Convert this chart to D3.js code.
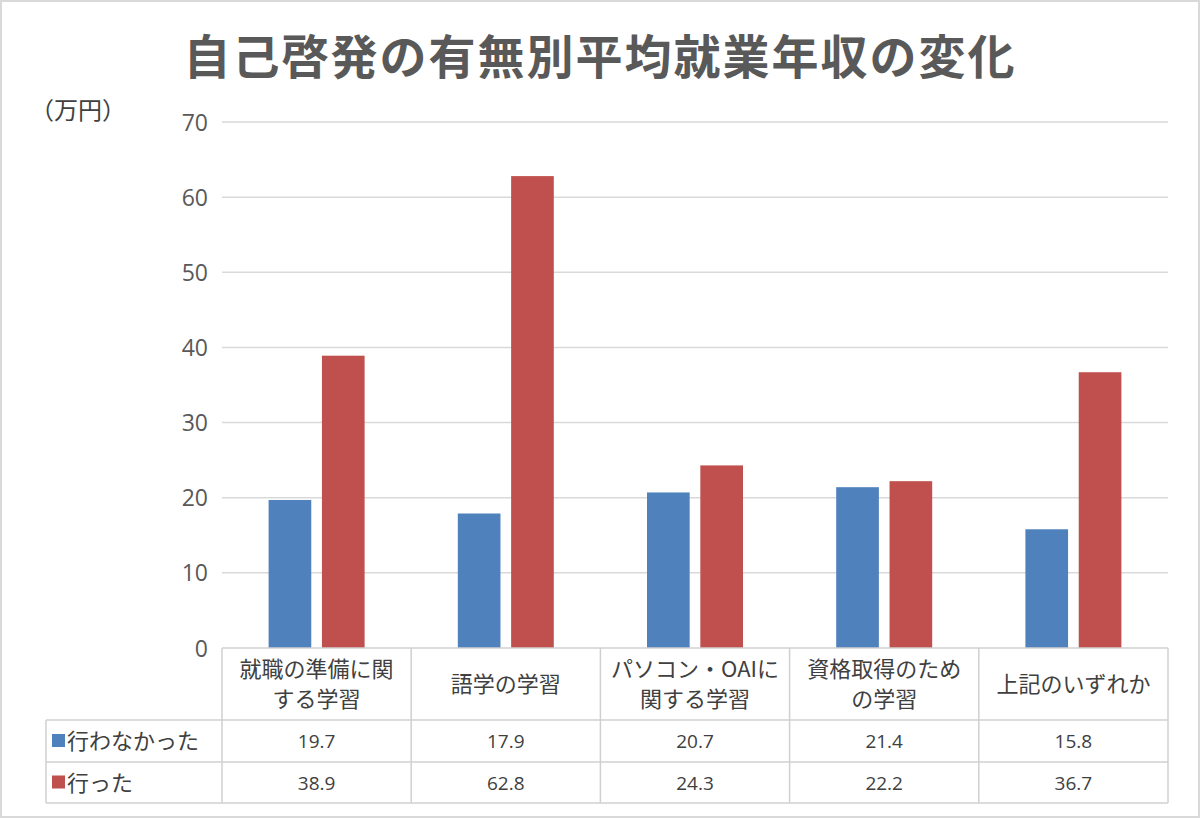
<!DOCTYPE html>
<html>
<head>
<meta charset="utf-8">
<script src="https://cdn.jsdelivr.net/npm/d3@7"></script>
<style>
  body { margin: 0; background: #fff; }
  svg { display: block; font-family: "Noto Sans CJK JP", "Noto Sans", sans-serif; }
</style>
</head>
<body>
<script>
// データ
const categories = [
  ["就職の準備に関", "する学習"],
  ["語学の学習"],
  ["パソコン・OAIに", "関する学習"],
  ["資格取得のため", "の学習"],
  ["上記のいずれか"]
];
const seriesNames = ["行わなかった", "行った"];
const notDone = [19.7, 17.9, 20.7, 21.4, 15.8];
const done = [38.9, 62.8, 24.3, 22.2, 36.7];
const yTicks = [0, 10, 20, 30, 40, 50, 60, 70];
const colors = ["#4F81BD", "#C0504D"];

const W = 1200, H = 818;
const plotLeft = 222, plotRight = 1168, plotTop = 122, plotBottom = 648;
const tableLeft = 46;
const rowLines = [648, 720, 762, 803];

const svg = d3.select("body").append("svg")
  .attr("width", W).attr("height", H);

// 外枠
svg.append("rect")
  .attr("x", 1).attr("y", 1).attr("width", W - 2).attr("height", H - 2)
  .attr("fill", "#fff").attr("stroke", "#d9d9d9").attr("stroke-width", 2);

// タイトル
svg.append("text")
  .attr("x", 600).attr("y", 74)
  .attr("text-anchor", "middle")
  .attr("font-size", 47).attr("font-weight", "bold")
  .attr("fill", "#595959")
  .attr("letter-spacing", 2)
  .text("自己啓発の有無別平均就業年収の変化");

svg.append("text")
  .attr("x", 30).attr("y", 119)
  .attr("font-size", 24).attr("fill", "#404040")
  .text("（万円）");

const y = d3.scaleLinear().domain([0, 70]).range([plotBottom, plotTop]);
const x = d3.scaleBand()
  .domain(d3.range(categories.length))
  .range([plotLeft, plotRight]);
const xs = d3.scaleBand()
  .domain([0, 1])
  .range([x.bandwidth() / 2 - 48, x.bandwidth() / 2 + 48])
  .paddingInner(0.2);

// グリッド線
svg.append("g")
  .selectAll("line")
  .data(yTicks.filter(d => d > 0))
  .join("line")
  .attr("x1", plotLeft).attr("x2", plotRight)
  .attr("y1", d => y(d)).attr("y2", d => y(d))
  .attr("stroke", "#d9d9d9").attr("stroke-width", 1.5);

// Y軸
const yAxis = svg.append("g")
  .attr("transform", `translate(${plotLeft - 14},0)`)
  .call(d3.axisLeft(y).tickValues(yTicks).tickSize(0).tickPadding(0));
yAxis.select(".domain").remove();
yAxis.selectAll("text")
  .attr("font-size", 23).attr("fill", "#595959")
  .attr("font-family", "'Open Sans', 'Noto Sans', sans-serif")
  .attr("dy", "0.35em");

// 棒
const series = [notDone, done];
series.forEach((vals, si) => {
  svg.append("g")
    .selectAll("rect")
    .data(vals)
    .join("rect")
    .attr("x", (d, i) => x(i) + xs(si))
    .attr("y", d => y(d))
    .attr("width", xs.bandwidth())
    .attr("height", d => y(0) - y(d))
    .attr("fill", colors[si]);
});

// データテーブル
const tbl = svg.append("g");
const lineColor = "#d0d0d0";
// 横線
tbl.selectAll("line.h")
  .data(rowLines)
  .join("line")
  .attr("class", "h")
  .attr("x1", (d, i) => i === 0 ? plotLeft : tableLeft)
  .attr("x2", plotRight)
  .attr("y1", d => d).attr("y2", d => d)
  .attr("stroke", lineColor).attr("stroke-width", 1.5);
// 縦線
const colEdges = d3.range(categories.length + 1).map(i => i < categories.length ? x(i) : plotRight);
tbl.selectAll("line.v")
  .data(colEdges)
  .join("line")
  .attr("class", "v")
  .attr("x1", d => d).attr("x2", d => d)
  .attr("y1", rowLines[0]).attr("y2", rowLines[3])
  .attr("stroke", lineColor).attr("stroke-width", 1.5);
tbl.append("line")
  .attr("x1", tableLeft).attr("x2", tableLeft)
  .attr("y1", rowLines[1]).attr("y2", rowLines[3])
  .attr("stroke", lineColor).attr("stroke-width", 1.5);

// カテゴリ名
categories.forEach((lines, i) => {
  const cx = x(i) + x.bandwidth() / 2;
  const midY = (rowLines[0] + rowLines[1]) / 2;
  const t = tbl.append("text")
    .attr("text-anchor", "middle")
    .attr("font-size", 22).attr("fill", "#404040");
  lines.forEach((s, j) => {
    t.append("tspan")
      .attr("x", cx)
      .attr("y", midY + 8 + (j - (lines.length - 1) / 2) * 30)
      .text(s);
  });
});

// 系列名と値
series.forEach((vals, si) => {
  const cy = (rowLines[si + 1] + rowLines[si + 2]) / 2;
  tbl.append("rect")
    .attr("x", tableLeft + 6).attr("y", cy - 7)
    .attr("width", 13).attr("height", 13)
    .attr("fill", colors[si]);
  tbl.append("text")
    .attr("x", tableLeft + 21).attr("y", cy + 8)
    .attr("font-size", 22).attr("fill", "#404040")
    .text(seriesNames[si]);
  tbl.selectAll(null)
    .data(vals)
    .join("text")
    .attr("x", (d, i) => x(i) + x.bandwidth() / 2)
    .attr("y", cy + 7)
    .attr("text-anchor", "middle")
    .attr("font-size", 19).attr("fill", "#404040")
    .attr("font-family", "'Open Sans', 'Noto Sans', sans-serif")
    .text(d => d3.format(".1f")(d));
});
</script>
</body>
</html>
